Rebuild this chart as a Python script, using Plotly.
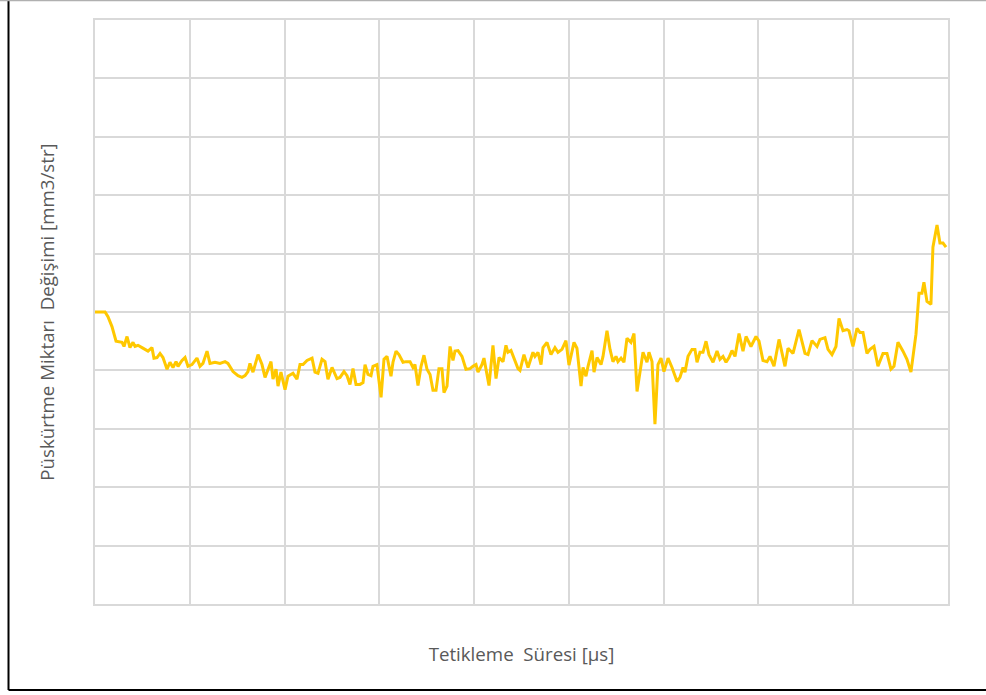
import plotly.graph_objects as go

# Tetikleme süresi (x) and püskürtme miktarı değişimi (y)
time_us = [
    0.0, 1.06, 1.37, 1.79, 2.22, 2.85, 3.06, 3.38, 3.69, 4.01, 4.22, 4.54, 4.96, 5.28, 5.59, 6.01,
    6.22, 6.54, 6.86, 7.17, 7.60, 7.91, 8.23, 8.55, 8.76, 9.18, 9.50, 9.81, 10.23, 10.76, 11.08,
    11.39, 11.82, 12.13, 12.66, 13.19, 13.72, 14.03, 14.56, 15.09, 15.51, 15.83, 16.14, 16.35,
    16.67, 17.20, 17.62, 17.94, 18.25, 18.57, 18.78, 19.10, 19.31, 19.62, 20.05, 20.36, 20.89,
    21.31, 21.63, 21.95, 22.37, 22.90, 23.21, 23.53, 23.95, 24.27, 24.58, 25.01, 25.53, 25.85,
    26.27, 26.59, 26.90, 27.22, 27.54, 27.96, 28.28, 28.49, 28.80, 29.12, 29.33, 29.75, 30.18,
    30.49, 30.81, 31.23, 31.44, 31.76, 32.07, 32.50, 32.81, 33.24, 33.55, 33.76, 34.08, 34.40,
    34.71, 35.03, 35.35, 35.66, 35.98, 36.29, 36.61, 36.82, 37.14, 37.46, 37.77, 37.98, 38.30,
    38.72, 39.14, 39.57, 39.88, 40.20, 40.41, 40.83, 41.04, 41.36, 41.57, 41.99, 42.31, 42.63,
    43.05, 43.36, 43.57, 43.89, 44.21, 44.63, 44.84, 45.26, 45.69, 46.21, 46.42, 46.74, 47.06,
    47.27, 47.69, 48.11, 48.53, 48.85, 49.27, 49.69, 50.01, 50.54, 50.85, 51.28, 51.49, 51.80,
    52.02, 52.44, 52.65, 52.97, 53.39, 53.60, 54.02, 54.34, 54.65, 54.97, 55.18, 55.50, 55.81,
    56.13, 56.55, 56.87, 57.19, 57.61, 57.82, 58.24, 58.45, 58.77, 59.08, 59.40, 59.72, 60.03,
    60.46, 60.88, 61.41, 61.72, 62.04, 62.25, 62.57, 62.99, 63.30, 63.52, 63.83, 64.15, 64.47,
    64.78, 65.21, 65.63, 65.94, 66.26, 66.58, 66.89, 67.21, 67.53, 67.95, 68.37, 68.69, 69.21,
    69.74, 70.06, 70.48, 70.90, 71.22, 71.64, 72.17, 72.80, 73.12, 73.65, 74.28, 74.91, 75.23,
    75.65, 76.18, 76.49, 77.02, 77.34, 77.76, 78.18, 78.50, 78.92, 79.34, 79.55, 79.97, 80.40,
    80.71, 81.03, 81.45, 81.77, 82.19, 82.61, 83.14, 83.56, 83.98, 84.30, 84.72, 85.25, 85.67,
    86.09, 86.62, 86.94, 87.25, 87.46, 87.78, 88.20, 88.41, 88.84, 89.15, 89.47, 89.79,
]
injection_change = [
    5.00, 5.00, 4.92, 4.75, 4.50, 4.48, 4.41, 4.58, 4.39, 4.48, 4.41, 4.43, 4.39, 4.36, 4.33, 4.39,
    4.21, 4.22, 4.29, 4.22, 4.02, 4.14, 4.05, 4.15, 4.07, 4.17, 4.22, 4.07, 4.10, 4.21, 4.07,
    4.12, 4.33, 4.12, 4.14, 4.12, 4.15, 4.12, 3.98, 3.91, 3.88, 3.91, 3.98, 4.12,
    3.97, 4.27, 4.10, 3.88, 4.02, 4.15, 3.85, 4.02, 3.73, 3.97, 3.67, 3.90, 3.95,
    3.85, 4.10, 4.10, 4.17, 4.21, 3.97, 3.95, 4.19, 4.15, 3.85, 4.05, 3.86, 3.88,
    3.98, 3.91, 3.76, 4.03, 3.76, 3.76, 3.79, 4.10, 3.93, 3.91, 4.07, 4.10, 3.54,
    4.19, 4.24, 3.90, 4.14, 4.33, 4.27, 4.14, 4.15, 4.15, 4.05, 4.10, 3.74, 4.07,
    4.26, 4.02, 3.93, 3.66, 3.66, 4.03, 4.03, 3.62, 3.73, 4.41, 4.17, 4.33, 4.34,
    4.24, 4.02, 4.03, 4.07, 4.10, 3.97, 4.10, 4.21, 3.95, 3.74, 4.43, 3.86, 4.22,
    4.15, 4.43, 4.31, 4.34, 4.19, 4.03, 4.00, 4.27, 4.05, 4.31, 4.24, 4.31, 4.10,
    4.39, 4.48, 4.27, 4.39, 4.31, 4.36, 4.51, 4.09, 4.48, 4.38, 3.73, 4.05, 3.90,
    4.07, 4.34, 3.97, 4.22, 4.10, 4.24, 4.68, 4.36, 4.15, 4.24, 4.15, 4.21, 4.14,
    4.55, 4.48, 4.63, 3.64, 4.14, 4.31, 4.14, 4.31, 4.15, 3.08, 4.10, 4.21, 3.98,
    4.21, 4.05, 3.81, 3.88, 4.05, 3.97, 4.24, 4.36, 4.36, 4.14, 4.31, 4.31, 4.50,
    4.27, 4.14, 4.33, 4.19, 4.24, 4.14, 4.22, 4.34, 4.24, 4.63, 4.33, 4.58, 4.41,
    4.58, 4.50, 4.17, 4.15, 4.24, 4.07, 4.53, 4.07, 4.38, 4.29, 4.70, 4.29, 4.27,
    4.51, 4.41, 4.53, 4.56, 4.36, 4.27, 4.41, 4.89, 4.68, 4.70, 4.68, 4.41, 4.72,
    4.65, 4.65, 4.29, 4.36, 4.41, 4.07, 4.29, 4.29, 4.02, 4.07, 4.48, 4.33, 4.19,
    3.97, 4.62, 5.32, 5.32, 5.51, 5.18, 5.13, 6.11, 6.49, 6.18, 6.18, 6.11,
]

x_title = "Tetikleme\u00a0 Süresi [µs]"
y_title = "Püskürtme Miktarı\u00a0 Değişimi [mm3/str]"

fig = go.Figure()
fig.add_trace(go.Scatter(
    x=time_us, y=injection_change, mode="lines",
    line=dict(color="#FFC800", width=3),
    hoverinfo="x+y", showlegend=False,
))

grid = "#d9d9d9"
fig.update_layout(
    width=986, height=695,
    margin=dict(l=95, r=38, t=20, b=91),
    paper_bgcolor="white", plot_bgcolor="white",
    font=dict(family="Open Sans, Liberation Sans, sans-serif", color="#595959", size=18.7),
    xaxis=dict(range=[0, 90], dtick=10, tick0=0, showticklabels=False, ticks="",
               showgrid=True, gridcolor=grid, gridwidth=1.5, zeroline=False,
               showline=True, linecolor=grid, linewidth=1.5, mirror=True,
               title=dict(text=x_title, standoff=43, font=dict(size=18.7, color="#595959"))),
    yaxis=dict(range=[0, 10], dtick=1, tick0=0, showticklabels=False, ticks="",
               showgrid=True, gridcolor=grid, gridwidth=1.5, zeroline=False,
               showline=True, linecolor=grid, linewidth=1.5, mirror=True,
               title=dict(text=y_title, standoff=34, font=dict(size=18.7, color="#595959"))),
    shapes=[
        dict(type="line", xref="paper", yref="paper", x0=-0.1014, x1=-0.1014, y0=-0.1473, y1=1.034,
             line=dict(color="black", width=2)),
        dict(type="line", xref="paper", yref="paper", x0=-0.1014, x1=1.05, y0=-0.1473, y1=-0.1473,
             line=dict(color="black", width=2)),
        dict(type="line", xref="paper", yref="paper", x0=-0.12, x1=1.05, y0=1.0334, y1=1.0334,
             line=dict(color="#b0b0b0", width=1.5)),
    ],
)

fig.write_html("out.html", config={"displayModeBar": False},
               post_script="document.body.style.margin='0';document.body.style.overflow='hidden';")
